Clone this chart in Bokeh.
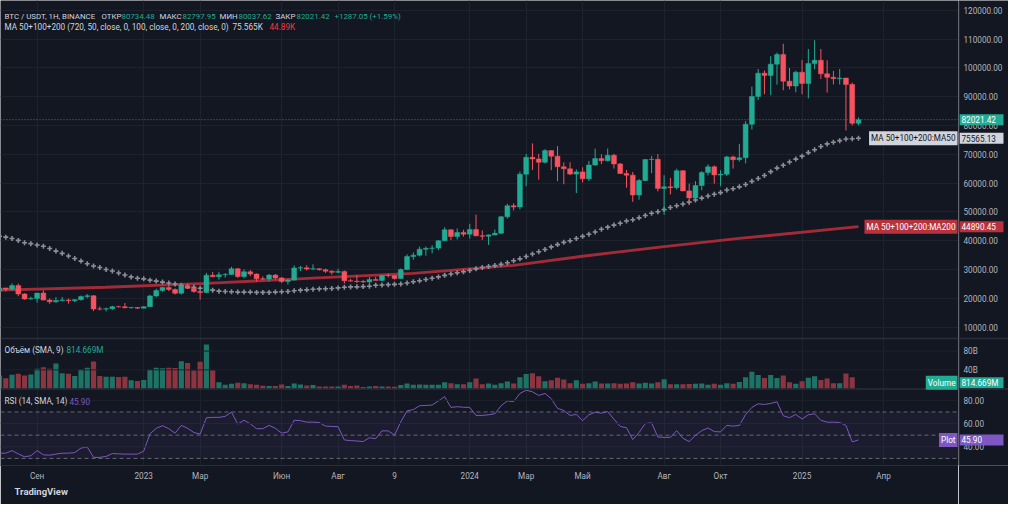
import datetime as dt
from bokeh.plotting import figure
from bokeh.layouts import row
from bokeh.models import Range1d, FixedTicker, Span, Label, Title, BoxAnnotation, ColumnDataSource
from bokeh.core.properties import value
from bokeh.embed import file_html
from bokeh.resources import INLINE

# ---------------- data (weekly candles) ----------------
first_week = "2022-07-25"
opens = [22580, 23630, 23170, 24440, 21520, 19800, 19990, 21830, 19420, 18800,
         19310, 19420, 19200, 19570, 20630, 20920, 16330, 16290, 16430, 17110,
         17090, 16780, 16840, 16620, 17130, 20870, 22700, 23740, 23120, 21770,
         24330, 23490, 22430, 22030, 28040, 27480, 28170, 28330, 30300, 27590,
         29230, 28430, 26780, 26750, 28080, 27100, 25900, 26340, 30540, 30590,
         30170, 30290, 29950, 29450, 29050, 29290, 26090, 26000, 25840, 25700,
         26530, 26250, 27970, 27930, 26860, 29990, 34520, 35010, 37060, 37370,
         37450, 39970, 43800, 41440, 42900, 42280, 43930, 41730, 41580, 42030,
         42580, 48300, 52140, 51730, 63100, 68950, 68390, 67210, 71280, 69360,
         65660, 64940, 63120, 63890, 61480, 66270, 68510, 67760, 69650, 66660,
         63300, 62760, 55860, 60900, 68160, 68250, 58160, 58710, 58430, 64300,
         57300, 54870, 59160, 63640, 65650, 62850, 63100, 69100, 68130, 68780,
         80440, 90080, 98150, 97380, 101280, 104640, 95360, 93680, 98490, 94560,
         101510, 102620, 97920, 96700, 96240, 96450, 94220, 80734.48]
highs = [24670, 23650, 25210, 25140, 21800, 20580, 21860, 22800, 19960, 20480,
         20480, 19960, 19700, 20990, 21480, 21050, 17190, 16810, 17420, 17430,
         18390, 17060, 16970, 17190, 21260, 23370, 23820, 24250, 23460, 25250,
         25130, 23890, 22600, 28870, 29190, 29200, 28800, 30970, 30490, 30040,
         29820, 28650, 27670, 28450, 28450, 27400, 26800, 31430, 31280, 31500,
         31820, 30440, 30330, 29690, 30250, 29690, 26800, 28140, 26440, 27490,
         27480, 28060, 28580, 28000, 30380, 35280, 35980, 37980, 37980, 38420,
         40250, 44700, 44000, 44270, 43800, 45880, 49050, 43580, 42200, 43880,
         48600, 52820, 52990, 64000, 70150, 73780, 70150, 71770, 71340, 72800,
         67200, 67230, 64740, 65500, 67700, 71980, 70000, 71990, 70200, 66980,
         64540, 63860, 61400, 68370, 69400, 70080, 62750, 61800, 65000, 64480,
         59800, 60670, 64130, 66500, 66110, 64480, 69450, 69520, 73620, 81500,
         93480, 99590, 99070, 104090, 105250, 108350, 99960, 98980, 102730, 106550,
         109590, 106550, 102620, 98930, 99600, 96500, 94900, 82797.95]
lows = [20710, 22430, 22660, 20760, 19520, 19550, 18540, 19320, 18130, 18470,
        18960, 18190, 18650, 19250, 20050, 15590, 15820, 15480, 16000, 16880,
        16530, 16400, 16330, 16500, 17130, 20400, 22300, 22500, 21350, 21350,
        23590, 21970, 19550, 21920, 27330, 26500, 27200, 28170, 27130, 26940,
        27680, 25810, 26330, 25880, 26600, 25350, 24800, 26240, 29500, 29700,
        29950, 29650, 28860, 28240, 28750, 25170, 25800, 25330, 25360, 24900,
        26380, 25990, 27280, 26540, 26750, 29850, 33390, 34520, 34800, 35630,
        36700, 39970, 40220, 40460, 41440, 40750, 41500, 40280, 38560, 41880,
        42260, 47710, 50520, 50900, 58920, 64540, 61180, 66800, 64490, 60660,
        59600, 62800, 56550, 60190, 60750, 66060, 66600, 67500, 65050, 63200,
        58400, 53480, 54260, 60600, 63450, 57120, 49000, 56080, 57790, 57200,
        52550, 54580, 57490, 62670, 59830, 58900, 62440, 65050, 67470, 66830,
        78600, 88800, 90860, 90500, 94150, 92230, 92520, 91530, 90800, 89410,
        99500, 96150, 91430, 94220, 94220, 78260, 80000, 80037.62]
closes = opens[1:] + [82021.42]

volumes_b = [28.2, 21.9, 29.6, 31.6, 28.2, 30.2, 42.6, 45.4, 42.6, 53.6,
             33.0, 31.6, 26.8, 40.6, 44.7, 57.8, 26.8, 25.4, 25.4, 24.7,
             25.4, 17.8, 16.4, 18.5, 40.0, 44.7, 43.3, 44.7, 44.0, 58.5,
             54.4, 38.5, 57.1, 94.4, 39.2, 13.7, 8.1, 10.1, 12.2, 11.6,
             9.5, 8.1, 6.0, 5.4, 5.4, 8.8, 5.4, 11.0, 8.8, 6.7,
             7.4, 4.7, 4.7, 4.7, 4.7, 8.1, 5.4, 6.7, 3.3, 4.7,
             5.4, 4.7, 4.7, 4.0, 7.4, 11.0, 8.1, 8.8, 8.1, 8.1,
             8.1, 13.7, 11.6, 9.5, 9.5, 13.7, 21.3, 9.5, 11.0, 8.1,
             11.6, 15.1, 11.0, 24.0, 30.9, 33.0, 26.1, 15.7, 17.8, 23.4,
             19.2, 11.6, 17.8, 10.1, 11.6, 15.1, 11.0, 11.0, 11.6, 10.1,
             11.0, 13.7, 11.0, 12.2, 11.0, 13.7, 19.9, 9.5, 9.5, 9.5,
             10.0, 10.4, 11.0, 8.1, 10.1, 8.1, 11.6, 10.1, 14.3, 24.0,
             35.8, 28.8, 22.6, 28.8, 22.6, 28.2, 13.7, 10.1, 15.7, 23.4,
             26.1, 18.4, 21.3, 11.6, 11.6, 32.3, 24.0, 0.814669]

ma50 = [41580, 41240, 40790, 40120, 39330, 39000, 38550, 38100, 37310, 36410,
        35630, 34730, 33840, 32940, 32040, 31260, 30700, 30020, 29480, 28810,
        28130, 27460, 27010, 26780, 26330, 26000, 25660, 25320, 24990, 24540,
        24090, 23870, 23530, 23190, 22860, 22520, 22410, 22300, 22190, 22190,
        22190, 22080, 22080, 22080, 22190, 22300, 22410, 22640, 22860, 22970,
        23190, 23300, 23360, 23420, 23640, 23870, 23980, 24010, 24090, 24200,
        24540, 24650, 24760, 24870, 24990, 25320, 25770, 26110, 26560, 27010,
        27460, 28000, 28470, 28910, 29240, 29690, 30250, 30700, 31040, 31370,
        31820, 32380, 33050, 33720, 34520, 35410, 36190, 36980, 37870, 38660,
        39440, 40000, 40790, 41520, 42250, 43030, 43980, 44710, 45430, 46050,
        46830, 47280, 47950, 48740, 49520, 50080, 50810, 51540, 52150, 52770,
        53390, 54120, 54790, 55520, 56140, 56700, 57590, 58030, 58700, 59500,
        60610, 61620, 62640, 63980, 65210, 66220, 67330, 68330, 69360, 70590,
        71600, 72710, 73610, 74180, 74730, 75300, 75410, 75565.13]

ma200_week = [0, 17, 33, 50, 66, 82, 93, 106, 118, 137]
ma200_val = [22860, 23870, 25210, 27000, 28680, 31490, 34620, 37980, 40790, 44890.45]

rsi = [34.5, 34.5, 36.7, 33.9, 31.4, 32.3, 36.7, 33.1, 32.8, 33.7,
       34.5, 34.5, 35.0, 38.9, 39.8, 30.9, 30.9, 31.7, 34.2, 33.9,
       33.7, 33.7, 33.7, 36.2, 51.2, 55.9, 58.1, 55.6, 51.7, 58.4,
       55.9, 52.3, 50.9, 65.0, 65.3, 65.3, 66.2, 69.8, 59.5, 62.8,
       59.8, 55.6, 55.6, 58.4, 55.9, 51.7, 52.8, 62.8, 62.5, 61.2,
       61.2, 60.9, 57.8, 57.5, 57.3, 45.9, 45.3, 45.0, 44.5, 47.8,
       47.0, 53.7, 53.7, 50.0, 61.4, 70.9, 72.0, 75.3, 75.6, 75.9,
       79.5, 83.1, 73.9, 74.5, 74.0, 73.9, 67.0, 67.0, 67.5, 68.4,
       75.3, 79.5, 78.9, 85.9, 88.7, 87.3, 84.2, 85.9, 81.4, 73.1,
       71.2, 67.0, 67.8, 62.5, 67.5, 69.8, 68.9, 70.3, 63.7, 57.5,
       56.4, 46.2, 52.3, 60.0, 60.6, 48.4, 48.1, 48.1, 53.9, 47.3,
       44.5, 49.8, 53.9, 56.2, 53.1, 52.8, 58.4, 57.8, 58.4, 67.8,
       73.9, 77.0, 76.4, 77.3, 78.7, 66.7, 65.0, 67.8, 63.9, 67.5,
       68.4, 62.8, 61.2, 61.2, 60.9, 58.4, 44.2, 45.90]

time_tick_dates = ["2022-09-05", "2023-01-02", "2023-03-06", "2023-06-05", "2023-08-07",
                   "2023-10-09", "2024-01-01", "2024-03-04", "2024-05-06", "2024-08-05",
                   "2024-10-07", "2025-01-06", "2025-04-07"]
time_tick_labels = ["Сен", "2023", "Мар", "Июн", "Авг", "9", "2024", "Мар", "Май",
                    "Авг", "Окт", "2025", "Апр"]
price_ticks = [10000, 20000, 30000, 40000, 50000, 60000, 70000, 80000, 90000,
               100000, 110000, 120000]
vol_ticks_b = [40, 80]
vol_tick_labels = ["40B", "80B"]
rsi_ticks = [40, 60, 80]
rsi_levels = [30, 50, 70]

# ---------------- styling / layout ----------------
BG = "#131722"
GRID = "#1e222d"
SEP = "#2a2e39"
TXT = "#b2b5be"
LEG = "#d1d4dc"
UP, DOWN = "#22ab94", "#f7525f"
VUP, VDOWN = "#1d7466", "#8c3540"
MA50C, MA200C = "#8b8e97", "#a32b37"
RSIC = "#7e57c2"
FONT = "Roboto"
LFS1 = "7.9px"
LFS = "8.2px"
AFS = "8.2px"

W, H = 1008, 504
AXIS_W, BOTTOM_H = 50, 39
FW, FH = W - AXIS_W, H - BOTTOM_H
REF_H = 480.0
VS = FH / REF_H
MAIN_B, VOL_B = 349.0, 401.0
price_top, price_bot = 123360.0, 6050.0
vol_top, vol_bot = 106.8, -0.83
rsi_top, rsi_bot = 89.75, 23.9
BAR_PX = 6.27
TAG_H = 11

price_lo = price_top - (price_top - price_bot) * REF_H / MAIN_B
vspan = (vol_top - vol_bot) / (VOL_B - MAIN_B)
vol_lo, vol_hi = vol_bot - vspan * (REF_H - VOL_B), vol_top + vspan * MAIN_B
rspan = (rsi_top - rsi_bot) / (REF_H - VOL_B)
rsi_lo, rsi_hi = rsi_bot, rsi_top + rspan * VOL_B

d0 = dt.date.fromisoformat(first_week)
n = len(closes)
idx = list(range(n))
wk = lambda s: (dt.date.fromisoformat(s) - d0).days / 7.0
x_start = 1.0 / BAR_PX
x_end = x_start + FW / BAR_PX

y_range = Range1d(price_lo, price_top)
extra = {"vol": Range1d(vol_lo, vol_hi), "rsi": Range1d(rsi_lo, rsi_hi)}

p = figure(width=FW, height=H, output_backend="svg", toolbar_location=None,
           x_range=Range1d(x_start, x_end), y_range=y_range, y_axis_location=None,
           min_border_left=0, min_border_right=0, min_border_top=0, min_border_bottom=BOTTOM_H,
           background_fill_color=BG, border_fill_color=BG, outline_line_color=None)
p.extra_y_ranges = extra

xt = [wk(s) for s in time_tick_dates]
xa = p.xaxis[0]
xa.ticker = FixedTicker(ticks=xt, minor_ticks=[])
xa.major_label_overrides = {t: s for t, s in zip(xt, time_tick_labels)}
xa.major_tick_line_color = None
xa.minor_tick_line_color = None
xa.major_tick_out = 0
xa.major_tick_in = 0
xa.minor_tick_out = 0
xa.minor_tick_in = 0
xa.axis_line_color = SEP
xa.major_label_text_color = TXT
xa.major_label_text_font = FONT
xa.major_label_text_font_size = AFS
xa.major_label_standoff = 5

p.xgrid.ticker = FixedTicker(ticks=xt)
p.ygrid.ticker = FixedTicker(ticks=price_ticks)
p.xgrid.grid_line_color = GRID
p.ygrid.grid_line_color = GRID

# pane grid lines & separators
for t in vol_ticks_b:
    p.add_layout(Span(location=t, dimension="width", y_range_name="vol", line_color=GRID, line_width=1))
for t in rsi_ticks:
    p.add_layout(Span(location=t, dimension="width", y_range_name="rsi", line_color=GRID, line_width=1))
p.add_layout(Span(location=price_bot, dimension="width", line_color=SEP, line_width=1.5))
p.add_layout(Span(location=rsi_top, dimension="width", y_range_name="rsi", line_color=SEP, line_width=1.5))

# main pane
up = [c >= o for o, c in zip(opens, closes)]
src = ColumnDataSource(dict(
    x=idx, o=opens, h=highs, l=lows, c=closes,
    top=[max(o, c) for o, c in zip(opens, closes)],
    bottom=[min(o, c) for o, c in zip(opens, closes)],
    color=[UP if u else DOWN for u in up],
    vcolor=[VUP if u else VDOWN for u in up],
    vol=volumes_b, ma50=ma50, rsi=rsi))

p.add_layout(Span(location=closes[-1], dimension="width", line_color=UP,
                  line_dash="1 2", line_width=1, line_alpha=0.8))
p.line(ma200_week, ma200_val, line_color=MA200C, line_width=2.8)
p.scatter("x", "ma50", source=src, marker="cross", size=5, line_color=MA50C, line_width=1.6)
p.segment(x0="x", y0="l", x1="x", y1="h", source=src, line_color="color", line_width=1)
p.vbar(x="x", width=0.78, top="top", bottom="bottom", source=src,
       fill_color="color", line_color="color", line_width=0.5)

# volume pane
p.vbar(x="x", width=0.82, top="vol", bottom=0, source=src, y_range_name="vol",
       fill_color="vcolor", line_color=None)

# rsi pane
p.add_layout(BoxAnnotation(bottom=rsi_levels[0], top=rsi_levels[-1], y_range_name="rsi",
                           fill_color=RSIC, fill_alpha=0.09, line_color=None))
for lv in rsi_levels:
    p.add_layout(Span(location=lv, dimension="width", y_range_name="rsi",
                      line_color="#787b86", line_dash="4 3", line_width=1, line_alpha=0.8))
p.line("x", "rsi", source=src, y_range_name="rsi", line_color=RSIC, line_width=1)

# legends (text)
def text(x_ref, y_ref, s, color, size=LFS):
    p.add_layout(Label(x=x_ref - 8, y=FH - y_ref * VS, x_units="screen", y_units="screen",
                       text=s, text_color=color, text_font=FONT, text_font_size=size,
                       text_align="left", text_baseline="middle"))

y1, y2 = 16, 27.5
text(12, y1, "BTC / USDT, 1H, BINANCE", LEG, LFS1)
text(109, y1, "ОТКР", LEG, LFS1); text(129, y1, f"{opens[-1]:.2f}", UP, LFS1)
text(167, y1, "МАКС", LEG, LFS1); text(190, y1, f"{highs[-1]:.2f}", UP, LFS1)
text(227, y1, "МИН", LEG, LFS1); text(246, y1, f"{lows[-1]:.2f}", UP, LFS1)
text(283, y1, "ЗАКР", LEG, LFS1); text(304, y1, f"{closes[-1]:.2f}", UP, LFS1)
text(342, y1, "+1287.05 (+1.59%)", UP, LFS1)
text(12, y2, "MA 50+100+200 (720, 50, close, 0, 100, close, 0, 200, close, 0)", LEG)
text(240, y2, f"{ma50[-1]/1000:.3f}K", LEG)
text(277, y2, f"{ma200_val[-1]/1000:.2f}K", "#f23645")
text(12, 361, "Объём (SMA, 9)", LEG)
text(74, 361, f"{volumes_b[-1]*1000:.3f}M", UP)
text(12, 413.5, "RSI (14, SMA, 14)", LEG)
text(77, 413.5, f"{rsi[-1]:.2f}", RSIC)

p.add_layout(Title(text="TradingView", align="left", offset=14, text_font=FONT,
                   text_font_size="9.5px", text_font_style="bold", text_color="#d1d4dc",
                   standoff=0), "below")

# ---------------- price scale (right) ----------------
ps = figure(width=AXIS_W, height=H, output_backend="svg", toolbar_location=None,
            x_range=Range1d(0, AXIS_W), y_range=y_range,
            x_axis_location=None, y_axis_location=None,
            min_border_left=0, min_border_right=0, min_border_top=0, min_border_bottom=BOTTOM_H,
            background_fill_color=BG, border_fill_color=BG, outline_line_color=None)
ps.extra_y_ranges = extra
ps.xgrid.visible = False
ps.ygrid.visible = False
ps.add_layout(Span(location=0.5, dimension="height", line_color=SEP, line_width=1.5))
ps.add_layout(Span(location=price_bot, dimension="width", line_color=SEP, line_width=1.5))
ps.add_layout(Span(location=rsi_top, dimension="width", y_range_name="rsi", line_color=SEP, line_width=1.5))

def scale_labels(ticks, labels, rng):
    ps.text(x=[5] * len(ticks), y=ticks, text=labels, y_range_name=rng,
            text_color=TXT, text_font=value(FONT), text_font_size=value(AFS),
            text_align="left", text_baseline="middle")

scale_labels(price_ticks, [f"{t:.2f}" for t in price_ticks], "default")
scale_labels(vol_ticks_b, vol_tick_labels, "vol")
scale_labels(rsi_ticks, [f"{t:.2f}" for t in rsi_ticks], "rsi")

def tag(y, s, bg, fg, left_text, rng="default"):
    ps.rect(x=[22.5], y=[y], width=45, height=TAG_H, height_units="screen",
            y_range_name=rng, fill_color=bg, line_color=None)
    ps.text(x=[3], y=[y], text=[s], y_range_name=rng, text_color=fg,
            text_font=value(FONT), text_font_size=value(AFS),
            text_align="left", text_baseline="middle")
    if left_text:
        p.add_layout(Label(x=FW - 1, y=y, x_units="screen", y_units="data", y_range_name=rng,
                           text=left_text, text_color=fg, text_font=FONT, text_font_size=AFS,
                           text_align="right", text_baseline="middle",
                           background_fill_color=bg, padding=2))

vol_per_px = (vol_hi - vol_lo) / FH
tag(closes[-1], f"{closes[-1]:.2f}", UP, "#ffffff", None)
tag(ma50[-1], f"{ma50[-1]:.2f}", "#d1d4dc", BG, "MA 50+100+200:MA50")
tag(ma200_val[-1], f"{ma200_val[-1]:.2f}", "#b8323d", "#ffffff", "MA 50+100+200:MA200")
tag(volumes_b[-1] + vol_per_px * TAG_H / 2, f"{volumes_b[-1]*1000:.3f}M", UP, "#ffffff", "Volume", "vol")
tag(rsi[-1], f"{rsi[-1]:.2f}", RSIC, "#ffffff", "Plot", "rsi")

layout = row(p, ps)
open("out.html", "w").write(file_html(layout, INLINE))
